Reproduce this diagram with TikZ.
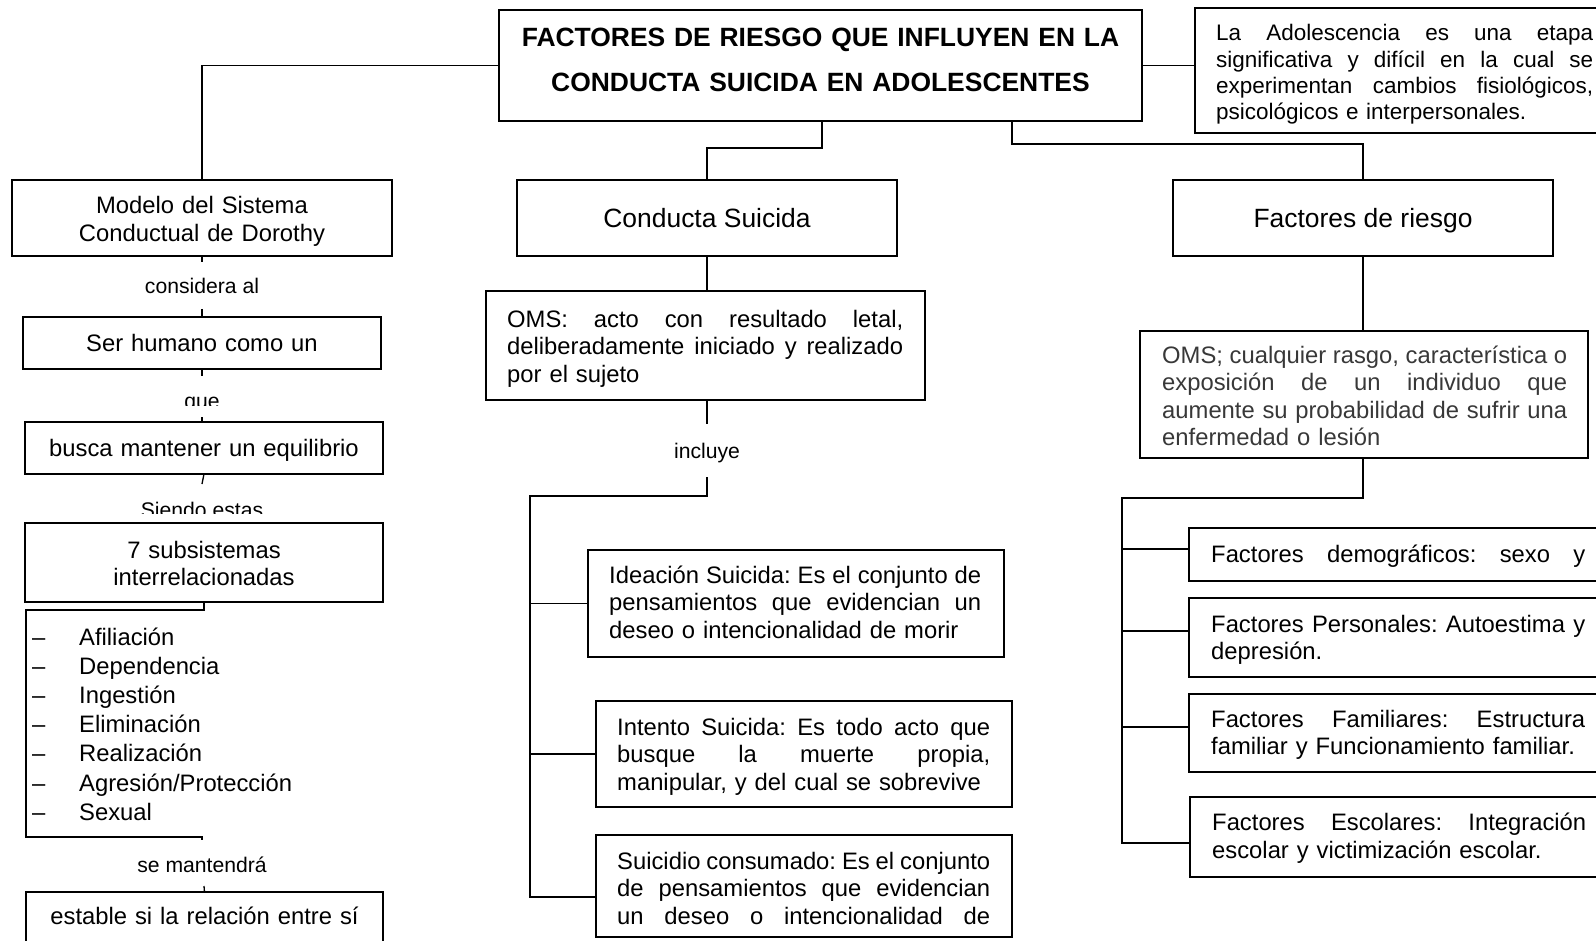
\documentclass[tikz,border=0pt]{standalone}
\usepackage{fontspec}
\setmainfont{Liberation Sans}
\usetikzlibrary{fit}
\newcommand\jl[2]{\leavevmode\hbox to #1pt{\spaceskip=0.278em plus 1fil minus 0.08em\relax #2}}
\newcommand\fbody{\fontsize{23.8pt}{27.5pt}\selectfont}
\newcommand\fhead{\fontsize{26.44pt}{30pt}\selectfont}
\newcommand\flab{\fontsize{21.16pt}{24pt}\selectfont}
\newcommand\fadol{\fontsize{22.48pt}{26.1pt}\selectfont}
\newcommand\ftitle{\fontsize{26.44pt}{45pt}\selectfont\bfseries}
\newcommand\flist{\fontsize{23.8pt}{29.2pt}\selectfont}
\frenchspacing
\begin{document}
\frenchspacing
\begin{tikzpicture}[x=1pt,y=-1pt,
 box/.style={draw, line width=2.6pt, inner sep=0pt, outer sep=0pt},
 conn/.style={line width=1.3pt},
 tx/.style={inner sep=0pt, anchor=base west, align=left, font=\fbody},
 ctx/.style={inner sep=0pt, anchor=base, align=center, font=\fbody, text width=360pt},
 lab/.style={inner sep=0pt, anchor=base, font=\flab},
 head/.style={inner sep=0pt, anchor=base, font=\fhead},
]
\useasboundingbox (0,0) rectangle (1596,941);
\clip (0,0) rectangle (1596,941);

% ---------- boxes ----------
\node[box, fit={(499,10) (1142,121)}] (title) {};
\node[box, fit={(1195,8) (1620,133)}] (adol) {};
\node[box, fit={(12,180) (392,256)}] (modelo) {};
\node[box, fit={(517,180) (897,256)}] (conducta) {};
\node[box, fit={(1173,180) (1553,256)}] (factores) {};
\node[box, fit={(486,291) (925,400)}] (oms1) {};
\node[box, fit={(1140,331) (1588,458)}] (oms2) {};
\node[box, fit={(23,317) (381,369)}] (ser) {};
\node[box, fit={(25,422) (383,474)}] (busca) {};
\node[box, fit={(25,523) (383,602)}] (siete) {};
\node[box, fit={(26,892) (383,955)}] (estable) {};
\node[box, fit={(588,550) (1004,657)}] (ideacion) {};
\node[box, fit={(596,701) (1012,807)}] (intento) {};
\node[box, fit={(596,835) (1012,937)}] (suicidio) {};
\node[box, fit={(1189,528) (1620,581)}] (demog) {};
\node[box, fit={(1189,598) (1620,677)}] (personales) {};
\node[box, fit={(1189,694) (1620,772)}] (familiares) {};
\node[box, fit={(1190,797) (1620,877)}] (escolares) {};

% ---------- texts ----------
\node[inner sep=0pt, anchor=base, align=center, text width=640pt, font=\ftitle] (titletxt) at (820.5,47)
 {FACTORES DE RIESGO QUE INFLUYEN EN LA\\CONDUCTA SUICIDA EN ADOLESCENTES};
\node[tx, font=\fadol, text width=377pt] (adoltxt) at (1216,41)
 {\jl{377}{La Adolescencia es una etapa}\\
  \jl{377}{significativa y difícil en la cual se}\\
  \jl{377}{experimentan cambios fisiológicos,}\\
  psicológicos e interpersonales.};
\node[ctx] (modelotxt) at (202,214) {Modelo del Sistema\\Conductual de Dorothy};
\node[lab] (l1) at (202,294) {considera al};
\node[ctx] (sertxt) at (202,352) {Ser humano como un};
\begin{scope}
 \clip (120,380) rectangle (290,405);
 \node[lab] (l2) at (202,408) {que};
\end{scope}
\node[ctx] (buscatxt) at (204,456) {busca mantener un equilibrio};
\begin{scope}
 \clip (80,490) rectangle (330,513);
 \node[lab] (l3) at (202,517) {Siendo estas};
\end{scope}
\node[ctx] (sietetxt) at (204,558) {7 subsistemas\\interrelacionadas};
\node[tx, font=\flist, text width=320pt] (lista) at (32,645)
 {\makebox[47pt][l]{–}Afiliación\\
  \makebox[47pt][l]{–}Dependencia\\
  \makebox[47pt][l]{–}Ingestión\\
  \makebox[47pt][l]{–}Eliminación\\
  \makebox[47pt][l]{–}Realización\\
  \makebox[47pt][l]{–}Agresión/Protección\\
  \makebox[47pt][l]{–}Sexual};
\node[lab] (l4) at (202,872) {se mantendrá};
\node[ctx] (establetxt) at (204.5,924) {estable si la relación entre sí};

\node[head] (conductatxt) at (707,228) {Conducta Suicida};
\node[tx, text width=396pt] (oms1txt) at (507,327)
 {\jl{396}{OMS: acto con resultado letal,}\\
  \jl{396}{deliberadamente iniciado y realizado}\\
  por el sujeto};
\node[lab] (l5) at (707,458) {incluye};
\node[tx, text width=372pt] (ideaciontxt) at (609,583)
 {\jl{372}{Ideación Suicida: Es el conjunto de}\\
  \jl{372}{pensamientos que evidencian un}\\
  deseo o intencionalidad de morir};
\node[tx, text width=373pt] (intentotxt) at (617,735)
 {\jl{373}{Intento Suicida: Es todo acto que}\\
  \jl{373}{busque la muerte propia,}\\
  manipular, y del cual se sobrevive};
\node[tx, text width=373pt] (suicidiotxt) at (617,869)
 {\jl{373}{Suicidio consumado: Es el conjunto}\\
  \jl{373}{de pensamientos que evidencian}\\
  \jl{373}{un deseo o intencionalidad de}};

\node[head] (factorestxt) at (1363,228) {Factores de riesgo};
\node[tx, text width=405pt, text=black!78] (oms2txt) at (1162,363)
 {\jl{405}{OMS; cualquier rasgo, característica o}\\
  \jl{405}{exposición de un individuo que}\\
  \jl{405}{aumente su probabilidad de sufrir una}\\
  enfermedad o lesión};
\node[tx, text width=374pt] (demogtxt) at (1211,562)
 {\jl{374}{Factores demográficos: sexo y}};
\node[tx, text width=374pt] (personalestxt) at (1211,632)
 {\jl{374}{Factores Personales: Autoestima y}\\depresión.};
\node[tx, text width=374pt] (familiarestxt) at (1211,727)
 {\jl{374}{Factores Familiares: Estructura}\\familiar y Funcionamiento familiar.};
\node[tx, text width=374pt] (escolarestxt) at (1212,830.5)
 {\jl{374}{Factores Escolares: Integración}\\escolar y victimización escolar.};

% ---------- connectors ----------
\coordinate (c1) at (822,148);
\coordinate (r1) at (1012,144);
\draw[conn] (title.west) -| (modelo.north);
\draw[conn] (title.east) -- (title.east -| adol.west);
\draw[conn] (title.south -| c1) -- (c1) -| (conducta.north);
\draw[conn] (title.south -| r1) -- (r1) -| (factores.north);

% left column
\coordinate (m1) at (202,262);
\coordinate (m2) at (202,309);
\coordinate (m3) at (202,376);
\coordinate (m4) at (202,417);
\coordinate (m5) at (202,484);
\coordinate (m6) at (204,886);
\coordinate (lb1) at (204,610);
\coordinate (lb2) at (26,610);
\coordinate (lb3) at (26,837);
\coordinate (lb4) at (202,837);
\coordinate (lb5) at (202,840);
\draw[conn] (modelo.south) -- (m1);
\draw[conn] (m2) -- (m2 |- ser.north);
\draw[conn] (ser.south) -- (m3);
\draw[conn] (m4) -- (m4 |- busca.north);
\draw[conn] (busca.south) -- (m5);
\draw[conn] (siete.south) -- (lb1) -- (lb2) -- (lb3) -- (lb4) -- (lb5);
\draw[conn] (m6) -- (estable.north);

% centre column
\coordinate (i1) at (707,424);
\coordinate (i2) at (707,477);
\coordinate (busT) at (530,496);
\coordinate (busB) at (530,897);
\draw[conn] (conducta.south) -- (conducta.south |- oms1.north);
\draw[conn] (conducta.south |- oms1.south) -- (i1);
\draw[conn] (i2) |- (busT) -- (busB) -- (busB -| suicidio.west);
\draw[conn] (busT |- ideacion.west) -- (ideacion.west);
\draw[conn] (busT |- intento.west) -- (intento.west);

% right column
\coordinate (fT) at (1122,498);
\coordinate (fB) at (1122,843);
\coordinate (fb1) at (1122,549);
\coordinate (fb2) at (1122,631);
\coordinate (fb3) at (1122,727);
\draw[conn] (factores.south) -- (factores.south |- oms2.north);
\draw[conn] (factores.south |- oms2.south) |- (fT) -- (fB) -- (fB -| escolares.west);
\draw[conn] (fb1) -- (fb1 -| demog.west);
\draw[conn] (fb2) -- (fb2 -| personales.west);
\draw[conn] (fb3) -- (fb3 -| familiares.west);
\end{tikzpicture}
\end{document}
